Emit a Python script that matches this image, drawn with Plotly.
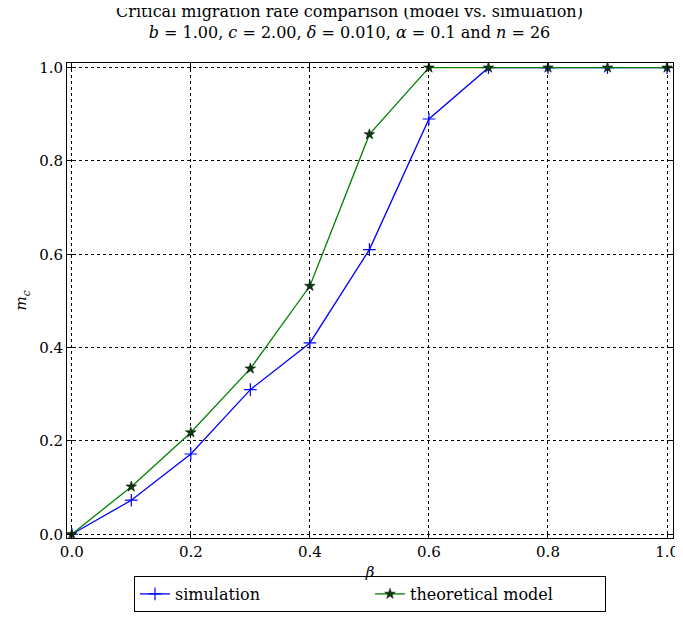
import plotly.graph_objects as go

beta = [0.0, 0.1, 0.2, 0.3, 0.4, 0.5, 0.6, 0.7, 0.8, 0.9, 1.0]
sim = [0.0, 0.073, 0.172, 0.31, 0.41, 0.61, 0.89, 1.0, 1.0, 1.0, 1.0]
model = [0.0, 0.102, 0.218, 0.355, 0.532, 0.857, 1.0, 1.0, 1.0, 1.0, 1.0]
ticks = [0.0, 0.2, 0.4, 0.6, 0.8, 1.0]
tick_text = ["0.0", "0.2", "0.4", "0.6", "0.8", "1.0"]

fig = go.Figure()
fig.add_trace(go.Scatter(x=beta, y=sim, name="simulation", mode="lines+markers",
                         line=dict(color="blue", width=1.3),
                         marker=dict(symbol="cross-thin", size=9, line=dict(color="blue", width=1.2))))
fig.add_trace(go.Scatter(x=beta, y=model, name="theoretical model", mode="lines+markers",
                         line=dict(color="green", width=1.3),
                         marker=dict(symbol="star", size=8, color="#0a3a0a", line=dict(color="black", width=0.5))))

axis = dict(range=[-0.008, 1.01], tickvals=ticks, ticktext=tick_text, showline=True, mirror="ticks",
            linecolor="black", linewidth=1, ticks="inside", ticklen=6, tickcolor="black",
            showgrid=True, gridcolor="black", griddash="dot", gridwidth=0.6, zeroline=False,
            tickfont=dict(size=15))
fig.update_layout(
    width=683, height=621,
    font=dict(family="DejaVu Serif", color="black"),
    paper_bgcolor="white", plot_bgcolor="white",
    margin=dict(l=59, r=15, t=55, b=91),
    title=dict(text="Critical migration rate comparison (model vs. simulation)<br>"
                    "<i>b</i> = 1.00, <i>c</i> = 2.00, <i>δ</i> = 0.010, <i>α</i> = 0.1 and <i>n</i> = 26",
               x=0.5, xanchor="center", y=0.985, yanchor="top", font=dict(size=16)),
    xaxis=dict(axis, title=dict(text="<i>β</i>", font=dict(size=15), standoff=6)),
    yaxis=dict(axis, title=dict(text="<i>m<sub>c</sub></i>", font=dict(size=15), standoff=8)),
    legend=dict(orientation="h", x=0.5, xanchor="center", y=-0.08, yanchor="top",
                bordercolor="black", borderwidth=1, font=dict(size=16), entrywidth=190),
    showlegend=True,
)
fig.write_html("out.html")
